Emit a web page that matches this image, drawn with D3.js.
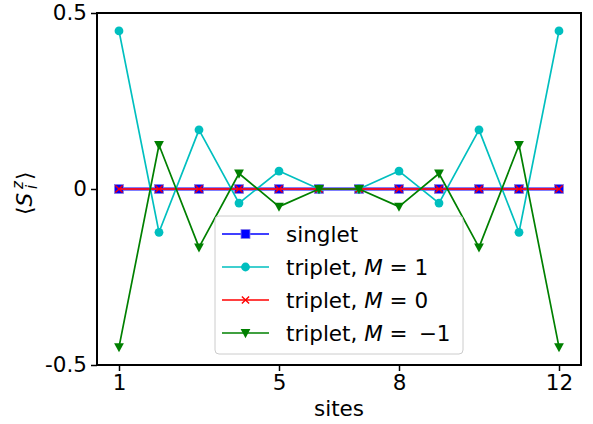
<!DOCTYPE html>
<html>
<head>
<meta charset="utf-8">
<script src="https://cdn.jsdelivr.net/npm/d3@7"></script>
<style>
  html, body { margin: 0; padding: 0; background: #fff; }
  svg { display: block; font-family: "DejaVu Sans", sans-serif; }
</style>
</head>
<body>
<svg id="chart" width="593" height="424"></svg>
<script>
// Spin expectation values <S_i^z> on a 12-site chain
const sites = [1, 2, 3, 4, 5, 6, 7, 8, 9, 10, 11, 12];
const singlet = [0, 0, 0, 0, 0, 0, 0, 0, 0, 0, 0, 0];
const tripletP1 = [0.449, -0.123, 0.168, -0.040, 0.051, 0.0, 0.0, 0.051, -0.040, 0.168, -0.123, 0.449];
const triplet0 = [0, 0, 0, 0, 0, 0, 0, 0, 0, 0, 0, 0];
const tripletM1 = [-0.449, 0.125, -0.166, 0.044, -0.050, 0.0, 0.0, -0.050, 0.044, -0.166, 0.125, -0.449];
const xTicks = [1, 5, 8, 12];
const yTicks = [-0.5, 0, 0.5];
const yTickLabels = ["-0.5", "0", "0.5"];

const FS = 21.5;
const svg = d3.select("#chart");
const m = { left: 97, right: 581, top: 13, bottom: 365 };

const x = d3.scaleLinear().domain([0.45, 12.55]).range([m.left, m.right]);
const y = d3.scaleLinear().domain([-0.5, 0.5]).range([m.bottom, m.top]);

const series = [
  { name: "singlet", values: singlet, color: "#0000ff", marker: "square", width: 3, opacity: 1 },
  { name: "M1", values: tripletP1, color: "#00bfbf", marker: "circle", width: 1.7, opacity: 1 },
  { name: "M0", values: triplet0, color: "#e8102e", marker: "x", width: 2, opacity: 1 },
  { name: "Mm1", values: tripletM1, color: "#008000", marker: "tri", width: 1.7, opacity: 1 }
];

const plot = svg.append("g");
const line = d3.line().x(d => x(d[0])).y(d => y(d[1]));

function drawMarker(g, type, color, cx, cy) {
  if (type === "square") {
    g.append("rect").attr("x", cx - 4.5).attr("y", cy - 4.5).attr("width", 9).attr("height", 9)
      .attr("fill", color).attr("stroke", "#8a7fe8").attr("stroke-width", 0.8);
  } else if (type === "circle") {
    g.append("circle").attr("cx", cx).attr("cy", cy).attr("r", 4.4).attr("fill", color);
  } else if (type === "x") {
    const s = 3.6;
    g.append("path").attr("d", `M${cx - s},${cy - s}L${cx + s},${cy + s}M${cx - s},${cy + s}L${cx + s},${cy - s}`)
      .attr("stroke", "#ff0000").attr("stroke-width", 1.4).attr("fill", "none");
  } else if (type === "tri") {
    const s = 4.9;
    g.append("path").attr("d", `M${cx - s},${cy - s * 0.8}L${cx + s},${cy - s * 0.8}L${cx},${cy + s * 1.05}Z`)
      .attr("fill", color);
  }
}

series.forEach(s => {
  const pts = sites.map((v, i) => [v, s.values[i]]);
  const g = plot.append("g").attr("opacity", s.opacity);
  g.append("path").datum(pts).attr("d", line)
    .attr("fill", "none").attr("stroke", s.color).attr("stroke-width", s.width)
    .attr("stroke-linejoin", "round");
  pts.forEach(p => drawMarker(g, s.marker, s.color, x(p[0]), y(p[1])));
});

// Frame
svg.append("rect").attr("x", m.left).attr("y", m.top)
  .attr("width", m.right - m.left).attr("height", m.bottom - m.top)
  .attr("fill", "none").attr("stroke", "#000").attr("stroke-width", 2);

// Axes
const xAxis = d3.axisBottom(x).tickValues(xTicks).tickSize(6).tickPadding(4).tickFormat(d3.format("d"));
const gx = svg.append("g").attr("transform", `translate(0,${m.bottom})`).call(xAxis);
gx.select(".domain").remove();
gx.selectAll("line").attr("stroke-width", 1.5);
gx.selectAll("text").attr("font-size", FS).attr("fill", "#000").attr("font-family", "DejaVu Sans");

const yAxis = d3.axisLeft(y).tickValues(yTicks).tickSize(6).tickPadding(4)
  .tickFormat((d, i) => yTickLabels[i]);
const gy = svg.append("g").attr("transform", `translate(${m.left},0)`).call(yAxis);
gy.select(".domain").remove();
gy.selectAll("line").attr("stroke-width", 1.5);
gy.selectAll("text").attr("font-size", FS).attr("fill", "#000").attr("font-family", "DejaVu Sans");

// Axis titles
svg.append("text").attr("x", (m.left + m.right) / 2).attr("y", 416)
  .attr("text-anchor", "middle").attr("font-size", FS).text("sites");

// <S_i^z>, rotated; superscript and subscript stacked after S
const yl = svg.append("g").attr("transform", `translate(32,${(m.top + m.bottom) / 2 + 2}) rotate(-90)`);
const ylt = yl.append("text").attr("x", -24).attr("y", 0).attr("font-size", FS);
ylt.append("tspan").text("⟨");
ylt.append("tspan").attr("font-style", "italic").text("S");
yl.append("text").attr("x", 2).attr("y", -9).attr("font-size", 15).attr("font-style", "italic").text("z");
yl.append("text").attr("x", 2).attr("y", 5).attr("font-size", 15).attr("font-style", "italic").text("i");
yl.append("text").attr("x", 11).attr("y", 0).attr("font-size", FS).text("⟩");

// Legend
const lg = svg.append("g").attr("transform", "translate(215,216)");
lg.append("rect").attr("width", 248).attr("height", 138).attr("rx", 4)
  .attr("fill", "#fff").attr("fill-opacity", 0.8).attr("stroke", "#cccccc").attr("stroke-width", 1);

const legendItems = [
  { s: series[0], label: [["singlet", false]] },
  { s: series[1], label: [["triplet, ", false], ["M", true], [" = 1", false]] },
  { s: series[2], label: [["triplet, ", false], ["M", true], [" = 0", false]] },
  { s: series[3], label: [["triplet, ", false], ["M", true], [" = \u2009−1", false]] }
];
legendItems.forEach((it, i) => {
  const cy = 18 + i * 33;
  const g = lg.append("g");
  const lc = it.s.name === "M0" ? "#ff0000" : it.s.color;
  g.append("line").attr("x1", 7).attr("x2", 54).attr("y1", cy).attr("y2", cy)
    .attr("stroke", lc).attr("stroke-width", 1.7);
  drawMarker(g, it.s.marker, lc, 30.5, cy);
  const t = g.append("text").attr("x", 71).attr("y", cy + 8).attr("font-size", FS);
  it.label.forEach(([txt, ital]) => {
    t.append("tspan").attr("font-style", ital ? "italic" : "normal").text(txt);
  });
});
</script>
</body>
</html>
